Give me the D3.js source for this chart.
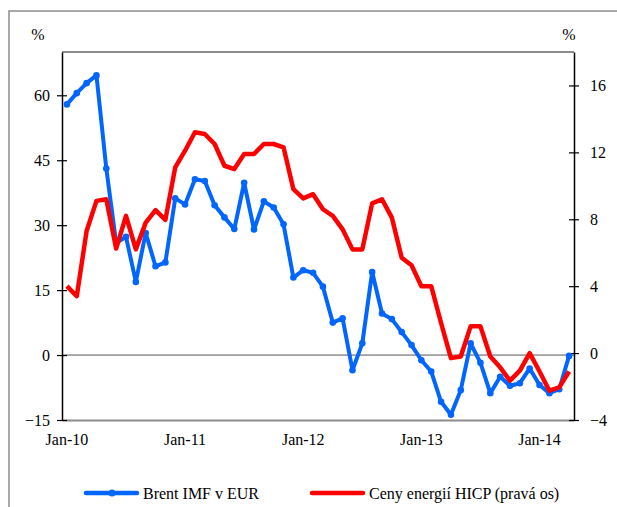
<!DOCTYPE html>
<html>
<head>
<meta charset="utf-8">
<script src="https://cdn.jsdelivr.net/npm/d3@7"></script>
<style>
html,body{margin:0;padding:0;background:#fff;}
svg{display:block;}
svg text{font-family:"Times New Roman","Liberation Serif","DejaVu Serif",serif !important;fill:#000;}
</style>
</head>
<body>
<svg id="chart" width="617" height="507"></svg>
<script>
const months = [
 "Jan-10","Feb-10","Mar-10","Apr-10","May-10","Jun-10","Jul-10","Aug-10","Sep-10","Oct-10","Nov-10","Dec-10",
 "Jan-11","Feb-11","Mar-11","Apr-11","May-11","Jun-11","Jul-11","Aug-11","Sep-11","Oct-11","Nov-11","Dec-11",
 "Jan-12","Feb-12","Mar-12","Apr-12","May-12","Jun-12","Jul-12","Aug-12","Sep-12","Oct-12","Nov-12","Dec-12",
 "Jan-13","Feb-13","Mar-13","Apr-13","May-13","Jun-13","Jul-13","Aug-13","Sep-13","Oct-13","Nov-13","Dec-13",
 "Jan-14","Feb-14","Mar-14","Apr-14"];
const brent = [57.9,60.5,62.8,64.6,43.1,25.9,27.3,16.9,28.2,20.5,21.4,36.2,
 34.8,40.6,40.2,34.6,31.8,29.1,39.8,29.0,35.5,34.1,30.2,17.9,
 19.6,19.0,15.8,7.5,8.5,-3.5,2.7,19.2,9.6,8.3,5.3,2.3,
 -1.2,-3.8,-10.8,-13.8,-8.1,2.7,-1.8,-8.8,-5.0,-7.1,-6.5,-3.1,
 -6.9,-8.8,-7.9,-0.2];
const hicp = [4.0,3.4,7.3,9.1,9.2,6.25,8.2,6.2,7.8,8.55,7.96,11.1,
 12.1,13.2,13.1,12.5,11.2,11.0,11.9,11.9,12.5,12.5,12.3,9.8,
 9.25,9.5,8.6,8.2,7.4,6.2,6.2,8.95,9.2,8.1,5.7,5.25,
 4.0,4.0,1.8,-0.3,-0.2,1.6,1.6,-0.2,-0.85,-1.65,-1.05,0.0,
 -1.1,-2.25,-2.05,-1.1];
const xTickLabels = ["Jan-10","Jan-11","Jan-12","Jan-13","Jan-14"];
const leftTicks = [-15,0,15,30,45,60];
const rightTicks = [-4,0,4,8,12,16];
const seriesNames = ["Brent IMF v EUR","Ceny energií HICP (pravá os)"];
const unitLabel = "%";

const FONT = "'Times New Roman','Liberation Serif','DejaVu Serif',serif";
const svg = d3.select("#chart");
const L = 62, R = 574, T = 52, B = 420;
const blue = "#0066ff", red = "#ff0000";

// outer frame
svg.append("rect").attr("x",9).attr("y",11).attr("width",640).attr("height",520)
  .attr("fill","none").attr("stroke","#8c8c8c").attr("stroke-width",1.5);

const x = d3.scaleBand().domain(months).range([L,R]).paddingInner(0).paddingOuter(0);
const cx = d => x(d) + x.bandwidth()/2;
const yL = d3.scaleLinear().domain([-15,70]).range([B,T]);
const yR = d3.scaleLinear().domain([-4,18]).range([B,T]);

svg.append("line").attr("x1",L).attr("x2",R).attr("y1",T).attr("y2",T)
  .attr("stroke","#8c8c8c").attr("stroke-width",2);
svg.append("line").attr("x1",L).attr("x2",R).attr("y1",yL(0)).attr("y2",yL(0))
  .attr("stroke","#555").attr("stroke-width",1);

function styleText(g){
  g.attr("font-family",FONT).attr("font-size",16);
  g.selectAll("text").style("font-family",FONT).style("font-size","16px").attr("fill","#000");
}

const xAxis = d3.axisBottom(x).tickValues(xTickLabels).tickSize(0).tickPadding(14);
const gx = svg.append("g").attr("transform",`translate(0,${B})`).call(xAxis);
gx.select(".domain").attr("stroke","#8c8c8c").attr("stroke-width",2);
styleText(gx);

const gl = svg.append("g").attr("transform",`translate(${L},0)`)
  .call(d3.axisLeft(yL).tickValues(leftTicks).tickSize(5).tickSizeOuter(0).tickPadding(7));
gl.select(".domain").attr("stroke","#000").attr("stroke-width",1.5);
styleText(gl);
gl.selectAll(".tick line").attr("stroke","#000").attr("stroke-width",1.2);
const gl2 = svg.append("g").attr("transform",`translate(${L},0)`)
  .call(d3.axisLeft(yL).tickValues(leftTicks).tickSize(-5).tickSizeOuter(0).tickFormat(""));
gl2.select(".domain").remove();
gl2.selectAll(".tick line").attr("stroke","#000").attr("stroke-width",1.2);

const gr = svg.append("g").attr("transform",`translate(${R},0)`)
  .call(d3.axisRight(yR).tickValues(rightTicks).tickSize(5).tickSizeOuter(0).tickPadding(11));
gr.select(".domain").attr("stroke","#000").attr("stroke-width",1.5);
styleText(gr);
gr.selectAll(".tick line").attr("stroke","#000").attr("stroke-width",1.2);
const gr2 = svg.append("g").attr("transform",`translate(${R},0)`)
  .call(d3.axisRight(yR).tickValues(rightTicks).tickSize(-5).tickSizeOuter(0).tickFormat(""));
gr2.select(".domain").remove();
gr2.selectAll(".tick line").attr("stroke","#000").attr("stroke-width",1.2);

svg.append("text").attr("x",38).attr("y",40).attr("text-anchor","middle").style("font-family",FONT).style("font-size","16px").text(unitLabel);
svg.append("text").attr("x",569).attr("y",40).attr("text-anchor","middle").style("font-family",FONT).style("font-size","16px").text(unitLabel);

const lineB = d3.line().x((d,i)=>cx(months[i])).y(d=>yL(d));
svg.append("path").datum(brent).attr("d",lineB).attr("fill","none")
  .attr("stroke",blue).attr("stroke-width",4).attr("stroke-linejoin","round");
svg.append("g").selectAll("circle").data(brent).join("circle")
  .attr("cx",(d,i)=>cx(months[i])).attr("cy",d=>yL(d)).attr("r",3.3).attr("fill",blue);

const lineR = d3.line().x((d,i)=>cx(months[i])).y(d=>yR(d));
svg.append("path").datum(hicp).attr("d",lineR).attr("fill","none")
  .attr("stroke",red).attr("stroke-width",4.5).attr("stroke-linejoin","round");

const lg = svg.append("g");
lg.append("line").attr("x1",86).attr("x2",137).attr("y1",493).attr("y2",493)
  .attr("stroke",blue).attr("stroke-width",4.5).attr("stroke-linecap","round");
lg.append("circle").attr("cx",112).attr("cy",493).attr("r",3.5).attr("fill",blue);
lg.append("text").attr("x",143).attr("y",499).style("font-family",FONT).style("font-size","16px").text(seriesNames[0]);
lg.append("line").attr("x1",312).attr("x2",363).attr("y1",493).attr("y2",493)
  .attr("stroke",red).attr("stroke-width",4.5).attr("stroke-linecap","round");
lg.append("text").attr("x",369).attr("y",499).style("font-family",FONT).style("font-size","16px").text(seriesNames[1]);
</script>
</body>
</html>
